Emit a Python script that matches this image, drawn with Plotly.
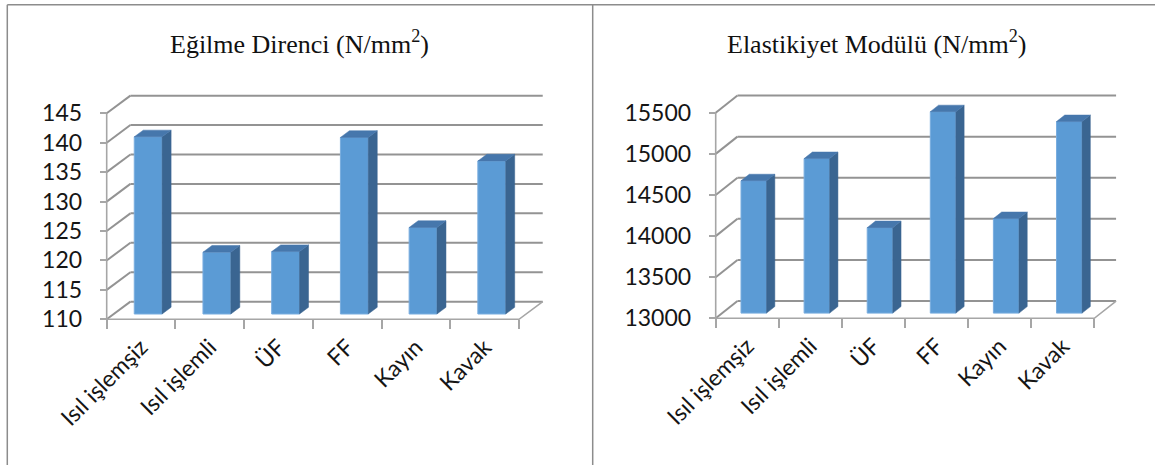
import plotly.graph_objects as go

# ---------------- data ----------------
categories = ["Isıl işlemşiz", "Isıl işlemli", "ÜF", "FF", "Kayın", "Kavak"]
egilme_values = [140.1, 120.5, 120.6, 140.0, 124.7, 136.0]
elastikiyet_values = [14610, 14880, 14040, 15450, 14150, 15330]
egilme_ticks = [110, 115, 120, 125, 130, 135, 140, 145]
elastikiyet_ticks = [13000, 13500, 14000, 14500, 15000, 15500]
titles = ["Eğilme Direnci (N/mm<sup>2</sup>)", "Elastikiyet Modülü (N/mm<sup>2</sup>)"]

# ---------------- style / layout ----------------
W, H = 1155, 465
FRONT = "#5B9BD5"
SIDE = "#3A6591"
TOP = "#4677AC"
GRID = "#939393"
AXIS = "#A6A6A6"
TEXT = "#151515"
LABEL_FONT = dict(family="Lato", size=23, color=TEXT)

fig = go.Figure()


def panel(idx, values, ticks, depth_y, px_left, pitch, px_base, px_per_unit, title, title_x):
    xa = "x" if idx == 1 else "x%d" % (2 * idx - 1)
    xo = "x%d" % (2 * idx)
    ya = "y" if idx == 1 else "y%d" % idx
    n = len(values)
    DX = 0.345            # depth in category units
    DY = depth_y          # depth in value units
    f0, f1 = 0.30, 0.68   # bar depth band
    bw = 0.405            # bar width
    vmin, vmax = ticks[0], ticks[-1]
    xL, xR = -0.5, n - 0.5

    # gridlines on back wall
    gx, gy = [], []
    for v in ticks:
        gx += [xL + DX, xR + DX, None]
        gy += [v + DY, v + DY, None]
    fig.add_trace(go.Scatter(x=gx, y=gy, mode="lines", line=dict(color=GRID, width=2),
                             xaxis=xa, yaxis=ya, hoverinfo="skip", showlegend=False))
    # side wall diagonals
    dx_, dy_ = [], []
    for v in ticks:
        dx_ += [xL, xL + DX, None]
        dy_ += [v, v + DY, None]
    fig.add_trace(go.Scatter(x=dx_, y=dy_, mode="lines", line=dict(color=GRID, width=2),
                             xaxis=xa, yaxis=ya, hoverinfo="skip", showlegend=False))
    # front vertical axis and floor edges
    fig.add_trace(go.Scatter(x=[xL, xL, None, xL, xR, xR + DX],
                             y=[vmax, vmin, None, vmin, vmin, vmin + DY],
                             mode="lines", line=dict(color=AXIS, width=1.6),
                             xaxis=xa, yaxis=ya, hoverinfo="skip", showlegend=False))
    # bars
    for i, v in enumerate(values):
        x0 = i - bw / 2 + f0 * DX
        x1 = i + bw / 2 + f0 * DX
        b = vmin + f0 * DY
        t = v + f0 * DY
        ddx = (f1 - f0) * DX
        ddy = (f1 - f0) * DY
        fig.add_trace(go.Scatter(x=[x0, x1, x1, x0, x0], y=[b, b, t, t, b], fill="toself",
                                 fillcolor=FRONT, mode="lines", line=dict(color="#79ADDF", width=1),
                                 xaxis=xa, yaxis=ya, showlegend=False, name=categories[i],
                                 hoverinfo="skip"))
        fig.add_trace(go.Scatter(x=[x1, x1 + ddx, x1 + ddx, x1, x1],
                                 y=[b, b + ddy, t + ddy, t, b], fill="toself",
                                 fillcolor=SIDE, mode="lines", line=dict(color=SIDE, width=0.5),
                                 xaxis=xa, yaxis=ya, showlegend=False, hoverinfo="skip"))
        fig.add_trace(go.Scatter(x=[x0, x1, x1 + ddx, x0 + ddx, x0],
                                 y=[t, t, t + ddy, t + ddy, t], fill="toself",
                                 fillcolor=TOP, mode="lines", line=dict(color=TOP, width=0.5),
                                 xaxis=xa, yaxis=ya, showlegend=False, hoverinfo="skip"))
    # dummy trace for overlay tick axis
    fig.add_trace(go.Scatter(x=[xL], y=[vmin], mode="markers", marker=dict(opacity=0),
                             xaxis=xo, yaxis=ya, showlegend=False, hoverinfo="skip"))

    # axis geometry (pixels -> paper)
    pad_x = 0.06
    rng_x = [xL - pad_x, xR + DX + pad_x]
    dom_x = [(px_left - pad_x * pitch) / W, (px_left + (n + DX + pad_x) * pitch) / W]
    span_y = (vmax + DY) - vmin
    pad_y = 0.01 * span_y
    rng_y = [vmin - pad_y, vmax + DY + pad_y]
    top_px = px_base - (span_y + pad_y) * px_per_unit
    bot_px = px_base + pad_y * px_per_unit
    dom_y = [1 - bot_px / H, 1 - top_px / H]
    base_paper = 1 - px_base / H
    left_paper = px_left / W

    xkey = "xaxis" if idx == 1 else "xaxis%d" % (2 * idx - 1)
    okey = "xaxis%d" % (2 * idx)
    ykey = "yaxis" if idx == 1 else "yaxis%d" % idx
    fig.update_layout(**{
        xkey: dict(domain=dom_x, range=rng_x, tickvals=list(range(n)), ticktext=categories,
                   tickangle=-45, ticks="", showgrid=False, zeroline=False, showline=False,
                   anchor="free", position=base_paper, tickfont=LABEL_FONT,
                   ticklabelstandoff=9, automargin=False),
        okey: dict(domain=dom_x, range=rng_x, overlaying=xa, tickvals=[k - 0.5 for k in range(n + 1)],
                   ticks="outside", ticklen=9, tickwidth=1.5, tickcolor=AXIS,
                   showticklabels=False, showgrid=False, zeroline=False, showline=False,
                   anchor="free", position=base_paper, automargin=False),
        ykey: dict(domain=dom_y, range=rng_y, tickvals=ticks, ticktext=[str(v) for v in ticks],
                   ticks="outside", ticklen=7,
                   tickwidth=1.5, tickcolor=AXIS, showgrid=False, zeroline=False,
                   showline=False, anchor="free", position=left_paper, tickfont=LABEL_FONT,
                   ticklabelstandoff=13, automargin=False),
    })
    fig.add_annotation(text=title, x=title_x / W, y=1 - 42 / H, xref="paper", yref="paper",
                       showarrow=False, xanchor="center", yanchor="middle",
                       font=dict(family="Liberation Serif", size=26, color="#111111"))


panel(1, egilme_values, egilme_ticks, 3.0, 106.7, 68.72, 319.3, 5.886, titles[0], 299.6)
panel(2, elastikiyet_values, elastikiyet_ticks, 210.0, 715.7, 63.1, 318.3, 0.0822, titles[1], 876.5)

# frame lines
FRAME = "#8C8C8C"
fig.add_shape(type="line", xref="paper", yref="paper", x0=7.3 / W, x1=1, y0=1 - 4.7 / H, y1=1 - 4.7 / H,
              line=dict(color=FRAME, width=1.5))
fig.add_shape(type="line", xref="paper", yref="paper", x0=7.3 / W, x1=7.3 / W, y0=0, y1=1 - 4.7 / H,
              line=dict(color=FRAME, width=1.5))
fig.add_shape(type="line", xref="paper", yref="paper", x0=592.7 / W, x1=592.7 / W, y0=0, y1=1 - 4.7 / H,
              line=dict(color=FRAME, width=1.5))

fig.update_layout(width=W, height=H, margin=dict(l=0, r=0, t=0, b=0, autoexpand=False),
                  paper_bgcolor="white", plot_bgcolor="rgba(0,0,0,0)", showlegend=False)

fig.write_html("out.html")
